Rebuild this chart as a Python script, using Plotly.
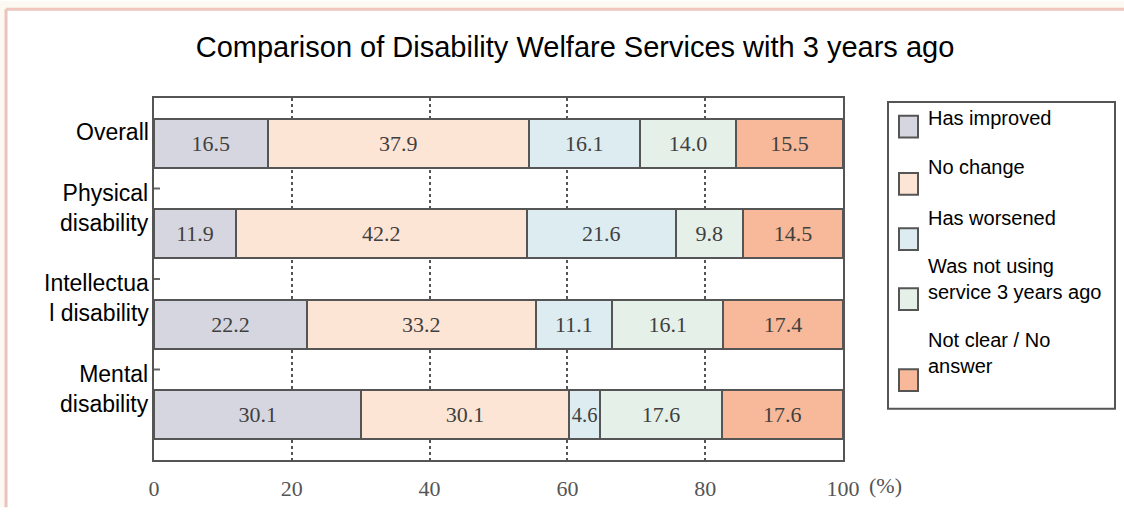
import plotly.graph_objects as go

# ---- data ----
categories = ["Overall", "Physical<br>disability", "Intellectua<br>l disability", "Mental<br>disability"]
series_names = ["Has improved", "No change", "Has worsened",
                "Was not using service 3 years ago", "Not clear / No answer"]
legend_labels = ["Has improved", "No change", "Has worsened",
                 "Was not using<br>service 3 years ago", "Not clear / No<br>answer"]
has_improved = [16.5, 11.9, 22.2, 30.1]
no_change = [37.9, 42.2, 33.2, 30.1]
has_worsened = [16.1, 21.6, 11.1, 4.6]
not_using = [14.0, 9.8, 16.1, 17.6]
not_clear = [15.5, 14.5, 17.4, 17.6]
x_ticks = [0, 20, 40, 60, 80, 100]
x_tick_labels = ["0", "20", "40", "60", "80", "100"]

series_values = [has_improved, no_change, has_worsened, not_using, not_clear]
colors = ["#d6d6e1", "#fde5d6", "#dcecf0", "#e5f0e9", "#f7b999"]

# ---- layout geometry (pixels) ----
W, H = 1124, 513
PL, PR, PT, PB = 154, 843, 98, 465


def px_x(px):
    return (px - PL) / (PR - PL)


def px_y(py):
    return (PB - py) / (PB - PT)


EDGE = "#555555"
SANS = "Liberation Sans, Arial, sans-serif"
SERIF = "Liberation Serif, Times New Roman, serif"

fig = go.Figure()
rows = list(range(len(categories)))

for name, vals, col in zip(series_names, series_values, colors):
    fig.add_trace(go.Bar(
        y=rows, x=vals, name=name, orientation="h", width=0.54,
        marker=dict(color=col, line=dict(color=EDGE, width=2)),
        text=[f"{v:.1f}" for v in vals], textposition="inside",
        insidetextanchor="middle", textangle=0,
        textfont=dict(family=SERIF, size=22, color="#404040"),
        showlegend=False, hoverinfo="x+name",
    ))

annotations = []
# category labels, right-aligned left of the axis
for i, cat in enumerate(categories):
    annotations.append(dict(
        text=cat, xref="paper", yref="y", x=0, y=i, xanchor="right",
        yanchor="bottom", xshift=-3, yshift=-4, align="right", showarrow=False,
        font=dict(family=SANS, size=23, color="#000000"),
    ))

# percent unit after the 100 tick
annotations.append(dict(
    text="(%)", xref="x", yref="paper", x=100, y=px_y(491), xanchor="left",
    yanchor="middle", xshift=24, showarrow=False,
    font=dict(family=SERIF, size=22, color="#555555"),
))

shapes = []
# page frame
shapes.append(dict(type="rect", xref="paper", yref="paper", x0=px_x(0), x1=px_x(W),
                   y0=px_y(8), y1=px_y(0), fillcolor="#fcf8f2", line=dict(width=0), layer="below"))
shapes.append(dict(type="rect", xref="paper", yref="paper", x0=px_x(0), x1=px_x(6),
                   y0=px_y(H), y1=px_y(0), fillcolor="#fcf8f2", line=dict(width=0), layer="below"))
shapes.append(dict(type="line", xref="paper", yref="paper", x0=px_x(6), x1=px_x(W),
                   y0=px_y(8), y1=px_y(8), line=dict(color="#efc6be", width=3)))
shapes.append(dict(type="line", xref="paper", yref="paper", x0=px_x(6), x1=px_x(6),
                   y0=px_y(8), y1=px_y(H), line=dict(color="#e9c4bc", width=3)))

# short inward ticks on the category axis between rows
for b in [0.5, 1.5, 2.5]:
    shapes.append(dict(type="line", xref="paper", yref="y", x0=0, x1=px_x(160),
                       y0=b, y1=b, line=dict(color="#666666", width=2)))

# legend box
shapes.append(dict(type="rect", xref="paper", yref="paper", x0=px_x(888), x1=px_x(1115),
                   y0=px_y(413), y1=px_y(102), line=dict(color=EDGE, width=2),
                   fillcolor="#ffffff"))
marker_tops = [116, 174, 230, 291, 373]
text_tops = [105, 155, 206, 255, 330]
for lab, col, mt, tt in zip(legend_labels, colors, marker_tops, text_tops):
    shapes.append(dict(type="rect", xref="paper", yref="paper",
                       x0=px_x(899), x1=px_x(918), y0=px_y(mt + 22), y1=px_y(mt),
                       fillcolor=col, line=dict(color=EDGE, width=2)))
    annotations.append(dict(
        text=lab, xref="paper", yref="paper", x=px_x(926), y=px_y(tt),
        xanchor="left", yanchor="top", align="left", showarrow=False,
        font=dict(family=SANS, size=20, color="#000000"),
    ))

fig.update_layout(
    width=W, height=H,
    margin=dict(l=PL, r=W - PR, t=PT, b=H - PB),
    paper_bgcolor="#ffffff", plot_bgcolor="#ffffff",
    barmode="stack", bargap=0.46,
    title=dict(text="Comparison of Disability Welfare Services with 3 years ago",
               x=575 / W, xanchor="center", xref="container", yref="container",
               y=1 - 47 / H, yanchor="middle",
               font=dict(family=SANS, size=29, color="#000000")),
    xaxis=dict(range=[0, 100], tickvals=x_ticks, ticktext=x_tick_labels,
               showgrid=True, gridcolor="#555555", griddash="dot", gridwidth=1.5,
               showline=True, linecolor=EDGE, linewidth=2, mirror=True,
               zeroline=False, ticks="",
               tickfont=dict(family=SERIF, size=22, color="#555555"),
               ticklabelstandoff=8),
    yaxis=dict(range=[3.5, -0.5], showticklabels=False, ticks="",
               showgrid=False, zeroline=False,
               showline=True, linecolor=EDGE, linewidth=2, mirror=True),
    annotations=annotations, shapes=shapes,
)

fig.write_html("out.html")
